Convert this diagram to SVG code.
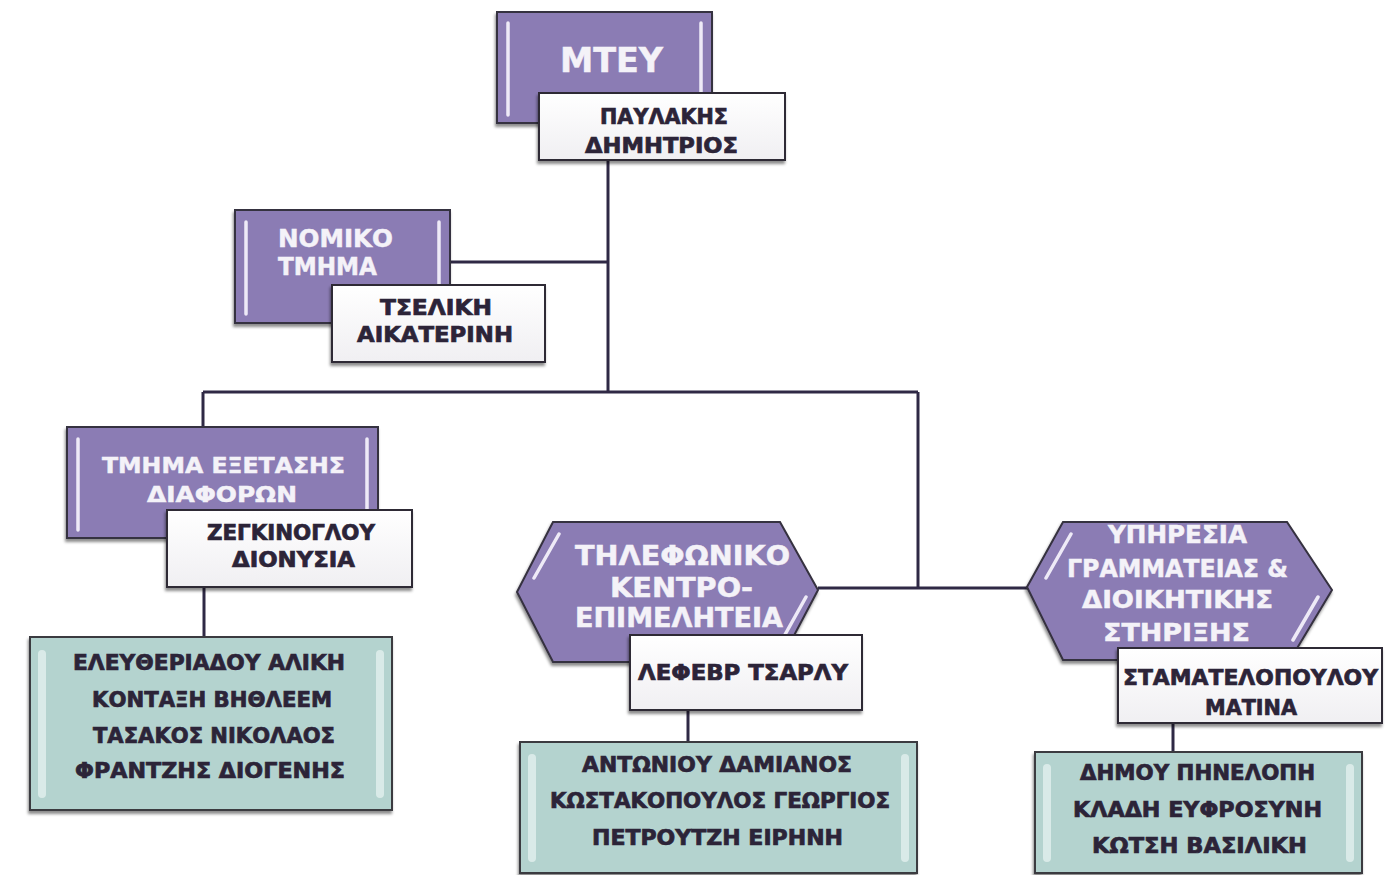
<svg xmlns="http://www.w3.org/2000/svg" width="1397" height="875" viewBox="0 0 1397 875">
<style>
.pu{fill:#8b7cb4;stroke:#35303f;stroke-width:2;filter:url(#sh)}
.nm{fill:url(#gw);stroke:#2e2a35;stroke-width:2;filter:url(#sh)}
.tl{fill:#b4d3cf;stroke:#3a3a40;stroke-width:2;filter:url(#sh)}
.hl{stroke:#eeeaf7;stroke-width:3.5;stroke-linecap:round;fill:none}
.bv{fill:#e6f2f0;opacity:0.75}
.c{stroke:#2f2945;stroke-width:3;fill:none}
text{font-family:"DejaVu Sans","Liberation Sans",sans-serif;font-weight:bold}
.w{fill:#f4f2f8;stroke:#f4f2f8;stroke-width:0.5}
.d{fill:#2c2438;stroke:#2c2438;stroke-width:0.7}
</style>
<defs>
<filter id="sh" x="-10%" y="-10%" width="120%" height="130%">
<feDropShadow dx="-1" dy="3" stdDeviation="1.5" flood-color="#000" flood-opacity="0.45"/>
</filter>
<linearGradient id="gw" x1="0" y1="0" x2="0" y2="1">
<stop offset="0" stop-color="#ffffff"/>
<stop offset="1" stop-color="#f0eff2"/>
</linearGradient>
</defs>
<rect width="1397" height="875" fill="#ffffff"/>
<g id="connectors">
<path class="c" d="M608 160 V392"/>
<path class="c" d="M450 262 H608"/>
<path class="c" d="M203 392 H918"/>
<path class="c" d="M203 392 V428"/>
<path class="c" d="M918 392 V588"/>
<path class="c" d="M818 588 H1028"/>
<path class="c" d="M204 587 V637"/>
<path class="c" d="M688 710 V743"/>
<path class="c" d="M1173 723 V753"/>
</g>
<g id="mtey">
<rect class="pu" x="497" y="12" width="215" height="111"/>
<path class="hl" d="M508 23 V115 M701 23 V115"/>
<text class="w" x="560" y="72" font-size="34" textLength="103" lengthAdjust="spacingAndGlyphs">ΜΤΕΥ</text>
</g>
<g id="mtey-name">
<rect class="nm" x="539" y="93" width="246" height="67"/>
<text class="d" x="600" y="124" font-size="21" textLength="128" lengthAdjust="spacingAndGlyphs">ΠΑΥΛΑΚΗΣ</text>
<text class="d" x="585" y="153" font-size="21" textLength="153" lengthAdjust="spacingAndGlyphs">ΔΗΜΗΤΡΙΟΣ</text>
</g>
<g id="nomiko">
<rect class="pu" x="235" y="210" width="215" height="113"/>
<path class="hl" d="M246 222 V314 M439 222 V314"/>
<text class="w" x="278" y="247" font-size="24" textLength="115" lengthAdjust="spacingAndGlyphs">ΝΟΜΙΚΟ</text>
<text class="w" x="278" y="275" font-size="24" textLength="99" lengthAdjust="spacingAndGlyphs">ΤΜΗΜΑ</text>
</g>
<g id="nomiko-name">
<rect class="nm" x="332" y="285" width="213" height="77"/>
<text class="d" x="380" y="315" font-size="21" textLength="112" lengthAdjust="spacingAndGlyphs">ΤΣΕΛΙΚΗ</text>
<text class="d" x="357" y="342" font-size="21" textLength="156" lengthAdjust="spacingAndGlyphs">ΑΙΚΑΤΕΡΙΝΗ</text>
</g>
<g id="exetasis">
<rect class="pu" x="67" y="427" width="311" height="111"/>
<path class="hl" d="M78 439 V530 M367 439 V530"/>
<text class="w" x="102" y="473" font-size="22" textLength="243" lengthAdjust="spacingAndGlyphs">ΤΜΗΜΑ ΕΞΕΤΑΣΗΣ</text>
<text class="w" x="147" y="502" font-size="22" textLength="150" lengthAdjust="spacingAndGlyphs">ΔΙΑΦΟΡΩΝ</text>
</g>
<g id="exetasis-name">
<rect class="nm" x="167" y="510" width="245" height="77"/>
<text class="d" x="207" y="540" font-size="21" textLength="168" lengthAdjust="spacingAndGlyphs">ΖΕΓΚΙΝΟΓΛΟΥ</text>
<text class="d" x="232" y="567" font-size="21" textLength="123" lengthAdjust="spacingAndGlyphs">ΔΙΟΝΥΣΙΑ</text>
</g>
<g id="exetasis-staff">
<rect class="tl" x="30" y="637" width="362" height="173"/>
<rect class="bv" x="38" y="650" width="8" height="148" rx="4"/>
<rect class="bv" x="376" y="650" width="8" height="148" rx="4"/>
<text class="d" x="73" y="670" font-size="21" textLength="272" lengthAdjust="spacingAndGlyphs">ΕΛΕΥΘΕΡΙΑΔΟΥ ΑΛΙΚΗ</text>
<text class="d" x="92" y="707" font-size="21" textLength="240" lengthAdjust="spacingAndGlyphs">ΚΟΝΤΑΞΗ ΒΗΘΛΕΕΜ</text>
<text class="d" x="93" y="743" font-size="21" textLength="242" lengthAdjust="spacingAndGlyphs">ΤΑΣΑΚΟΣ ΝΙΚΟΛΑΟΣ</text>
<text class="d" x="75" y="778" font-size="21" textLength="270" lengthAdjust="spacingAndGlyphs">ΦΡΑΝΤΖΗΣ ΔΙΟΓΕΝΗΣ</text>
</g>
<g id="tilefoniko">
<polygon class="pu" points="517,592 553,522 780,522 818,590 780,662 553,662"/>
<path class="hl" d="M559 534 L534 578 M806 597 L782 640"/>
<text class="w" x="575" y="565" font-size="26" textLength="215" lengthAdjust="spacingAndGlyphs">ΤΗΛΕΦΩΝΙΚΟ</text>
<text class="w" x="610" y="597" font-size="26" textLength="143" lengthAdjust="spacingAndGlyphs">ΚΕΝΤΡΟ-</text>
<text class="w" x="575" y="627" font-size="26" textLength="208" lengthAdjust="spacingAndGlyphs">ΕΠΙΜΕΛΗΤΕΙΑ</text>
</g>
<g id="tilefoniko-name">
<rect class="nm" x="630" y="635" width="232" height="75"/>
<text class="d" x="638" y="680" font-size="22" textLength="210" lengthAdjust="spacingAndGlyphs">ΛΕΦΕΒΡ ΤΣΑΡΛΥ</text>
</g>
<g id="tilefoniko-staff">
<rect class="tl" x="520" y="742" width="397" height="131"/>
<rect class="bv" x="528" y="754" width="8" height="108" rx="4"/>
<rect class="bv" x="901" y="754" width="8" height="108" rx="4"/>
<text class="d" x="582" y="772" font-size="21" textLength="270" lengthAdjust="spacingAndGlyphs">ΑΝΤΩΝΙΟΥ ΔΑΜΙΑΝΟΣ</text>
<text class="d" x="550" y="808" font-size="21" textLength="340" lengthAdjust="spacingAndGlyphs">ΚΩΣΤΑΚΟΠΟΥΛΟΣ ΓΕΩΡΓΙΟΣ</text>
<text class="d" x="592" y="845" font-size="21" textLength="251" lengthAdjust="spacingAndGlyphs">ΠΕΤΡΟΥΤΖΗ ΕΙΡΗΝΗ</text>
</g>
<g id="grammateia">
<polygon class="pu" points="1027,587 1063,522 1287,522 1332,590 1290,660 1063,660"/>
<path class="hl" d="M1071 534 L1046 578 M1318 597 L1293 640"/>
<text class="w" x="1108" y="543" font-size="25" textLength="139" lengthAdjust="spacingAndGlyphs">ΥΠΗΡΕΣΙΑ</text>
<text class="w" x="1067" y="577" font-size="25" textLength="221" lengthAdjust="spacingAndGlyphs">ΓΡΑΜΜΑΤΕΙΑΣ &amp;</text>
<text class="w" x="1082" y="608" font-size="25" textLength="191" lengthAdjust="spacingAndGlyphs">ΔΙΟΙΚΗΤΙΚΗΣ</text>
<text class="w" x="1103" y="641" font-size="25" textLength="147" lengthAdjust="spacingAndGlyphs">ΣΤΗΡΙΞΗΣ</text>
</g>
<g id="grammateia-name">
<rect class="nm" x="1118" y="648" width="264" height="75"/>
<text class="d" x="1123" y="685" font-size="22" textLength="255" lengthAdjust="spacingAndGlyphs">ΣΤΑΜΑΤΕΛΟΠΟΥΛΟΥ</text>
<text class="d" x="1205" y="715" font-size="22" textLength="92" lengthAdjust="spacingAndGlyphs">ΜΑΤΙΝΑ</text>
</g>
<g id="grammateia-staff">
<rect class="tl" x="1035" y="752" width="327" height="121"/>
<rect class="bv" x="1043" y="764" width="8" height="98" rx="4"/>
<rect class="bv" x="1346" y="764" width="8" height="98" rx="4"/>
<text class="d" x="1080" y="780" font-size="21" textLength="235" lengthAdjust="spacingAndGlyphs">ΔΗΜΟΥ ΠΗΝΕΛΟΠΗ</text>
<text class="d" x="1073" y="817" font-size="21" textLength="249" lengthAdjust="spacingAndGlyphs">ΚΛΑΔΗ ΕΥΦΡΟΣΥΝΗ</text>
<text class="d" x="1092" y="853" font-size="21" textLength="215" lengthAdjust="spacingAndGlyphs">ΚΩΤΣΗ ΒΑΣΙΛΙΚΗ</text>
</g>
</svg>
